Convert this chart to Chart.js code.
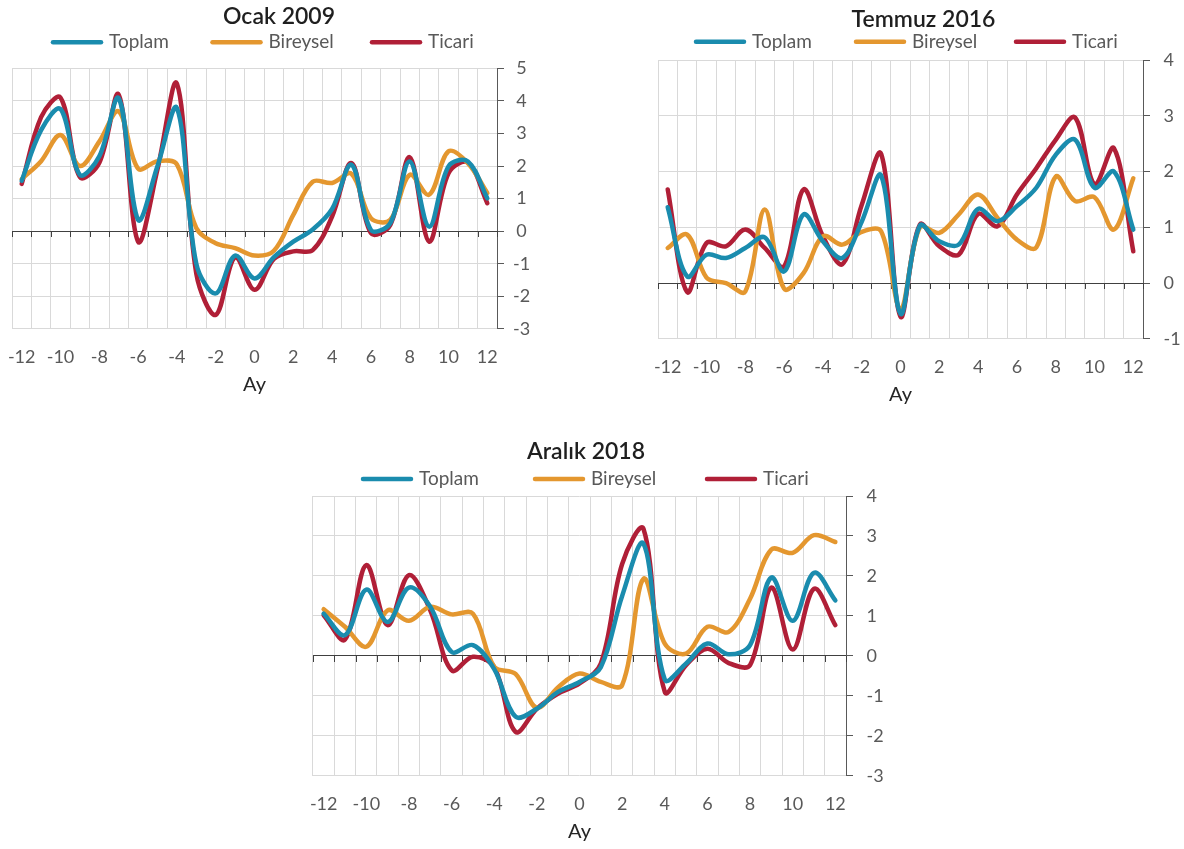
<!DOCTYPE html>
<html lang="tr">
<head>
<meta charset="utf-8">
<title>Kredi büyümesi – Ocak 2009, Temmuz 2016, Aralık 2018</title>
<script src="https://cdn.jsdelivr.net/npm/chart.js@4.4.1/dist/chart.umd.min.js"></script>
<style>
    html, body { margin: 0; padding: 0; background: #fff; }
    body { position: relative; width: 1184px; height: 849px; overflow: hidden; }
    canvas { position: absolute; }
    #ocak { left: 7px; top: 0; }
    #temmuz { left: 653px; top: 0; }
    #aralik { left: 286px; top: 430px; }
</style>
</head>
<body>
<canvas id="ocak" width="544" height="401"></canvas>
<canvas id="temmuz" width="541" height="411"></canvas>
<canvas id="aralik" width="600" height="418"></canvas>

<script>
// months around the event, -12 .. 12
const months = ['-12', '-11', '-10', '-9', '-8', '-7', '-6', '-5', '-4', '-3', '-2', '-1', '0',
                '1', '2', '3', '4', '5', '6', '7', '8', '9', '10', '11', '12'];

const seriesNames = ['Toplam', 'Bireysel', 'Ticari'];

// Ocak 2009
const ocakToplam   = [1.55, 3.1, 3.75, 1.73, 2.3, 4.08, 0.35, 2.0, 3.78, -1.0, -1.91, -0.75, -1.45,
                      -0.8, -0.32, 0.05, 0.68, 2.04, 0.04, 0.25, 2.14, 0.14, 1.99, 2.14, 1.01];
const ocakBireysel = [1.6, 2.15, 2.95, 2.0, 2.75, 3.68, 1.92, 2.15, 2.05, 0.1, -0.37, -0.52, -0.75,
                      -0.6, 0.5, 1.52, 1.48, 1.76, 0.4, 0.35, 1.73, 1.12, 2.45, 2.09, 1.17];
const ocakTicari   = [1.45, 3.5, 4.1, 1.66, 2.1, 4.19, -0.32, 1.9, 4.53, -1.3, -2.57, -0.8, -1.8,
                      -0.85, -0.62, -0.58, 0.45, 2.09, -0.06, 0.19, 2.27, -0.32, 1.78, 2.11, 0.86];

// Temmuz 2016
const temmuzToplam   = [1.36, 0.12, 0.51, 0.45, 0.63, 0.82, 0.21, 1.23, 0.75, 0.45, 1.1, 1.93, -0.55,
                        1.03, 0.75, 0.69, 1.33, 1.11, 1.38, 1.71, 2.3, 2.57, 1.71, 2.0, 0.96];
const temmuzBireysel = [0.63, 0.87, 0.1, 0.0, -0.15, 1.32, -0.1, 0.18, 0.84, 0.69, 0.92, 0.93, -0.45,
                        1.0, 0.9, 1.23, 1.59, 1.17, 0.78, 0.64, 1.91, 1.47, 1.54, 0.96, 1.88];
const temmuzTicari   = [1.68, -0.16, 0.72, 0.66, 0.96, 0.63, 0.3, 1.68, 0.84, 0.34, 1.4, 2.32, -0.6,
                        1.05, 0.66, 0.51, 1.24, 1.02, 1.59, 2.06, 2.57, 2.97, 1.77, 2.42, 0.57];

// Aralık 2018
const aralikToplam   = [1.06, 0.52, 1.66, 0.85, 1.71, 1.23, 0.1, 0.27, -0.33, -1.52, -1.32, -0.9, -0.65,
                        -0.28, 1.5, 2.81, -0.59, -0.19, 0.31, 0.04, 0.27, 1.96, 0.88, 2.08, 1.39];
const aralikBireysel = [1.17, 0.73, 0.23, 1.14, 0.88, 1.23, 1.04, 1.06, -0.27, -0.45, -1.3, -0.78, -0.44,
                        -0.65, -0.73, 1.93, 0.31, 0.06, 0.73, 0.6, 1.43, 2.66, 2.58, 3.02, 2.85];
const aralikTicari   = [1.02, 0.41, 2.27, 0.77, 2.02, 1.14, -0.36, -0.02, -0.28, -1.9, -1.32, -0.94, -0.69,
                        -0.19, 2.3, 3.18, -0.9, -0.23, 0.18, -0.18, -0.23, 1.71, 0.16, 1.68, 0.77];

const FONT = 'Lato, "Noto Sans", sans-serif';
const lineColors = ['#1A8CAE', '#E4972F', '#B01F37'];
const gridColor = '#D9D9D9';
const axisColor = '#595959';
const zeroColor = '#404040';
const textColor = '#595959';

// legend drawn as evenly spaced slots: short line + label
const lineLegend = {
    id: 'lineLegend',
    afterDraw(chart, args, opts) {
        const ctx = chart.ctx;
        ctx.save();
        ctx.font = `${opts.size}px ${FONT}`;
        ctx.textBaseline = 'middle';
        ctx.textAlign = 'left';
        chart.data.datasets.forEach((ds, i) => {
            const x = opts.x + i * opts.slot;
            ctx.strokeStyle = ds.borderColor;
            ctx.lineWidth = ds.borderWidth;
            ctx.lineCap = 'round';
            ctx.beginPath();
            ctx.moveTo(x + 2, opts.y);
            ctx.lineTo(x + opts.lineLength - 2, opts.y);
            ctx.stroke();
            ctx.fillStyle = textColor;
            ctx.fillText(ds.label, x + opts.lineLength + opts.gap, opts.y);
        });
        ctx.restore();
    }
};

// small tick marks hanging under the zero line, on the category boundaries
const zeroTicks = {
    id: 'zeroTicks',
    beforeDatasetsDraw(chart) {
        const { ctx, scales: { x, y } } = chart;
        const n = x.ticks.length;
        const half = (x.getPixelForTick(1) - x.getPixelForTick(0)) / 2;
        const y0 = Math.round(y.getPixelForValue(0));
        ctx.save();
        ctx.strokeStyle = zeroColor;
        ctx.lineWidth = 1;
        ctx.beginPath();
        for (let i = 0; i <= n; i++) {
            const px = i < n ? x.getPixelForTick(i) - half : x.getPixelForTick(n - 1) + half;
            const sx = Math.round(px) + 0.5;
            ctx.moveTo(sx, y0);
            ctx.lineTo(sx, y0 + 6);
        }
        ctx.stroke();
        ctx.restore();
    }
};

function lineSet(label, values, color) {
    return {
        label: label,
        data: values,
        borderColor: color,
        backgroundColor: color,
        borderWidth: 4.5,
        borderCapStyle: 'round',
        borderJoinStyle: 'round',
        pointRadius: 0,
        tension: 0.35,
        fill: false,
        yAxisID: 'y',
    };
}

function makeChart(id, title, values, opt) {
    const scales = {
        x: {
            type: 'category',
            offset: true,
            // invisible tick length gives the label gap without the doubled tick padding
            grid: { offset: true, color: gridColor, drawTicks: true, tickLength: 17, tickColor: 'rgba(0,0,0,0)' },
            border: { display: false },
            ticks: {
                autoSkip: false,
                maxRotation: 0,
                padding: 0,
                color: textColor,
                font: { family: FONT, size: 18 },
                callback(value, index) {
                    return index % 2 === 0 ? this.getLabelForValue(value) : '';
                },
            },
            title: {
                display: true,
                text: 'Ay',
                color: '#262626',
                font: { family: FONT, size: 20 },
                padding: { top: 5.5, bottom: 4 },
            },
        },
        y: {
            position: 'right',
            min: opt.min,
            max: opt.max,
            ticks: {
                stepSize: 1,
                color: textColor,
                font: { family: FONT, size: 18 },
                padding: opt.tickPad,
                crossAlign: opt.crossAlign,
            },
            grid: {
                color: c => (c.tick && c.tick.value === 0 ? zeroColor : gridColor),
                tickColor: axisColor,
                tickLength: 7,
            },
            border: { display: true, color: axisColor },
            afterFit(scale) { scale.width = opt.yWidth; },
        },
        // empty left band: room for the first x label and centring of the title
        pad: {
            position: 'left',
            grid: { display: false },
            border: { display: false },
            ticks: { display: false },
            afterFit(scale) { scale.width = opt.spacer; },
        },
    };

    return new Chart(document.getElementById(id), {
        type: 'line',
        data: {
            labels: months,
            datasets: values.map((v, i) => lineSet(seriesNames[i], v, lineColors[i])),
        },
        options: {
            responsive: false,
            animation: false,
            events: [],
            layout: { padding: 0 },
            plugins: {
                legend: { display: false },
                tooltip: { enabled: false },
                title: {
                    display: true,
                    text: title,
                    color: '#1F1F1F',
                    font: { family: FONT, size: 23, weight: '600' },
                    padding: { top: opt.titleTop, bottom: opt.titleBottom },
                },
                lineLegend: {
                    x: opt.legendX, y: opt.legendY, slot: opt.legendSlot,
                    lineLength: 52, gap: 6, size: 19,
                },
            },
            scales: scales,
        },
        plugins: [lineLegend, zeroTicks],
    });
}

makeChart('ocak', 'Ocak 2009', [ocakToplam, ocakBireysel, ocakTicari], {
    min: -3, max: 5, yWidth: 54, spacer: 5, tickPad: 9, crossAlign: 'center',
    titleTop: 3, titleBottom: 37.7,
    legendX: 44, legendY: 42.3, legendSlot: 159.5,
});

makeChart('temmuz', 'Temmuz 2016', [temmuzToplam, temmuzBireysel, temmuzTicari], {
    min: -1, max: 4, yWidth: 51, spacer: 5, tickPad: 13.5, crossAlign: 'near',
    titleTop: 6, titleBottom: 26.4,
    legendX: 41, legendY: 41.7, legendSlot: 160,
});

makeChart('aralik', 'Aralık 2018', [aralikToplam, aralikBireysel, aralikTicari], {
    min: -3, max: 4, yWidth: 40, spacer: 27, tickPad: 13.5, crossAlign: 'near',
    titleTop: 8, titleBottom: 30.4,
    legendX: 75, legendY: 49, legendSlot: 172,
});
</script>
</body>
</html>
